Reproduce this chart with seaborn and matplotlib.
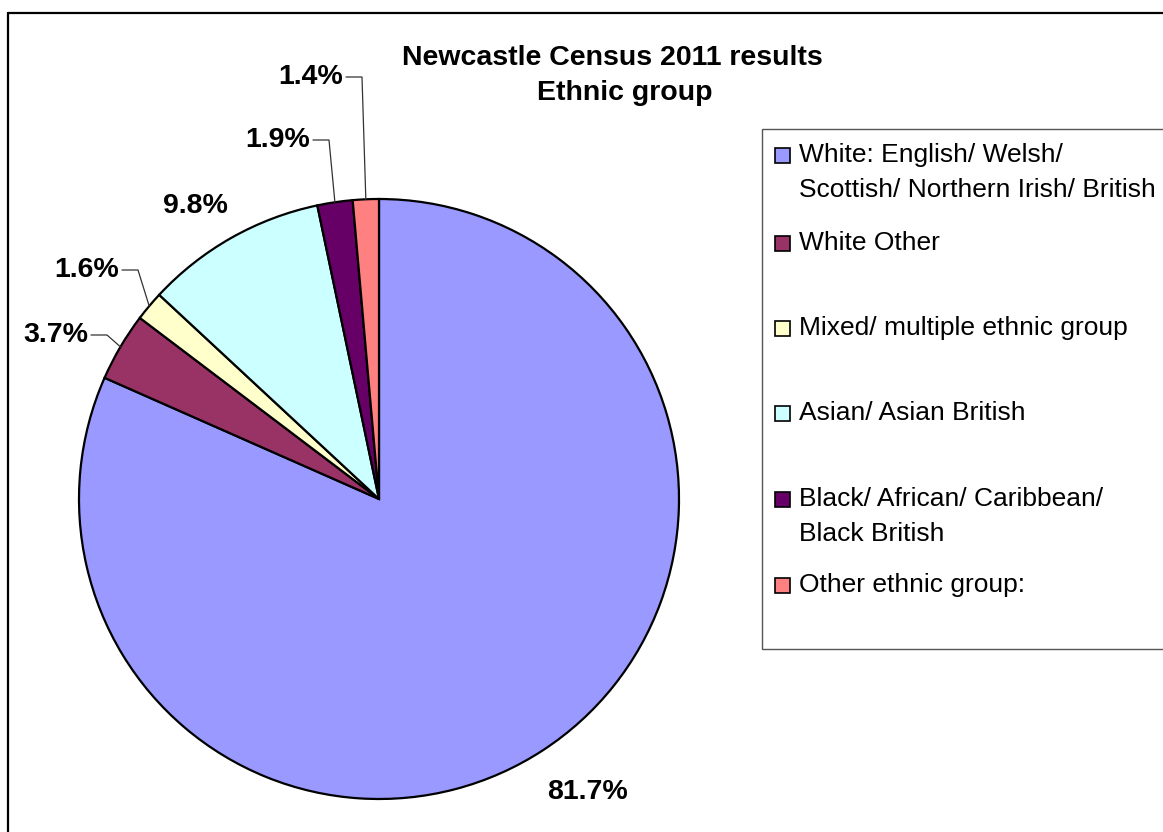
import numpy as np
import matplotlib
matplotlib.use("Agg")
import matplotlib.pyplot as plt
from matplotlib.patches import Rectangle
from matplotlib.lines import Line2D
import seaborn as sns

# Newcastle, Census 2011 - ethnic group shares (%)
categories = [
    "White: English/ Welsh/\nScottish/ Northern Irish/ British",
    "White Other",
    "Mixed/ multiple ethnic group",
    "Asian/ Asian British",
    "Black/ African/ Caribbean/\nBlack British",
    "Other ethnic group:",
]
shares = [81.7, 3.7, 1.6, 9.8, 1.9, 1.4]
value_labels = ["81.7%", "3.7%", "1.6%", "9.8%", "1.9%", "1.4%"]
slice_colors = ["#9999FF", "#993366", "#FFFFCC", "#CCFFFF", "#660066", "#FF8080"]

sns.set_theme(style="white")
plt.rcParams["font.family"] = ["Liberation Sans", "DejaVu Sans"]
plt.rcParams["text.color"] = "black"
palette = sns.color_palette(slice_colors)

W, H = 1163, 832
fig = plt.figure(figsize=(W / 100, H / 100), dpi=100)
fig.patch.set_facecolor("white")


def fx(px):
    return px / W


def fy(py):
    return 1 - py / H


# pie axes: centre (379, 499) px, radius 300 px
cx, cy, r = 379, 499, 300
ax = fig.add_axes([fx(cx - r), fy(cy + r), 2 * r / W, 2 * r / H])
wedges, _ = ax.pie(
    shares,
    colors=palette,
    startangle=90,
    counterclock=False,
    radius=1.0,
    wedgeprops=dict(edgecolor="black", linewidth=1.6),
)
ax.set_xlim(-1, 1)
ax.set_ylim(-1, 1)
ax.axis("off")


def d(px, py):
    return (px - cx) / r, (cy - py) / r


# label anchor (pixel), horizontal alignment, leader line?
label_layout = [
    ((588, 792), "center", False),
    ((88, 335), "right", True),
    ((119, 270), "right", True),
    ((195, 206), "center", False),
    ((310, 140), "right", True),
    ((343, 77), "right", True),
]

for w, txt, (pos, ha, leader) in zip(wedges, value_labels, label_layout):
    tx, ty = d(*pos)
    ax.text(tx, ty, txt, ha=ha, va="center", fontsize=20.5,
            fontweight="bold", color="black", clip_on=False)
    if leader:
        mid = np.deg2rad((w.theta1 + w.theta2) / 2)
        ex, ey = np.cos(mid), np.sin(mid)
        x0 = tx + 3 / r
        x1 = tx + 19 / r
        ax.add_line(Line2D([x0, x1, ex], [ty, ty, ey], color="#333333",
                           linewidth=0.9, clip_on=False))

# title
fig.text(fx(612), fy(58), "Newcastle Census 2011 results", ha="center",
         va="center", fontsize=20.5, fontweight="bold", color="black")
fig.text(fx(625), fy(93), "Ethnic group", ha="center", va="center",
         fontsize=20.5, fontweight="bold", color="black")

# legend box
fig.add_artist(Rectangle((fx(762), fy(649)), fx(1200 - 762), (649 - 129) / H,
                         transform=fig.transFigure, facecolor="white",
                         edgecolor="#555555", linewidth=1.0))
entry_y = [155, 243, 328, 413, 499, 585]
for label, col, y in zip(categories, palette, entry_y):
    fig.add_artist(Rectangle((fx(775), fy(y + 7.5)), 15 / W, 15 / H,
                             transform=fig.transFigure, facecolor=col,
                             edgecolor="black", linewidth=1.2))
    for k, line in enumerate(label.split("\n")):
        fig.text(fx(799), fy(y + 35 * k), line, ha="left", va="center",
                 fontsize=19, color="black")

# chart-area border (top and left edges)
fig.add_artist(Line2D([fx(8), fx(8)], [0, fy(13)], transform=fig.transFigure,
                      color="black", linewidth=1.6))
fig.add_artist(Line2D([fx(8), 1], [fy(13), fy(13)], transform=fig.transFigure,
                      color="black", linewidth=1.6))

fig.savefig("out.png", dpi=100, facecolor="white")
